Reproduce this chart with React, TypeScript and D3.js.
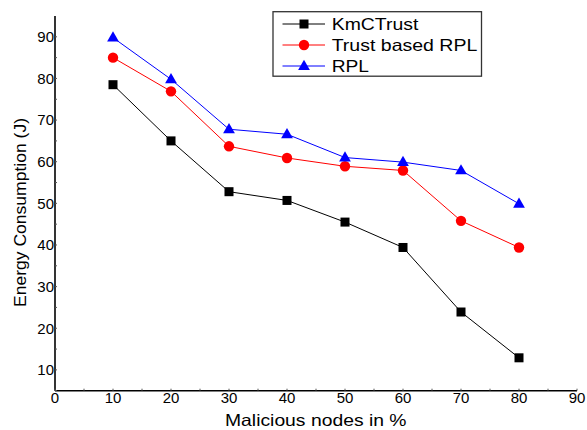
import React from "react";
import * as d3 from "d3";

const xValues = [10, 20, 30, 40, 50, 60, 70, 80];
const kmcTrust = [78.5, 65, 52.8, 50.7, 45.5, 39.4, 23.9, 12.9];
const trustRPL = [85, 76.9, 63.7, 60.9, 58.9, 57.9, 45.8, 39.4];
const rpl = [89.8, 79.8, 67.8, 66.6, 61, 59.9, 57.9, 49.9];
const seriesNames = ["KmCTrust", "Trust based RPL", "RPL"];
const xTicks = [0, 10, 20, 30, 40, 50, 60, 70, 80, 90];
const yTicks = [10, 20, 30, 40, 50, 60, 70, 80, 90];
const xTitle = "Malicious nodes in %";
const yTitle = "Energy Consumption (J)";

const W = 587;
const H = 430;
const left = 55;
const right = 577;
const top = 16;
const bottom = 390.7;

const font = "Arial, 'Liberation Sans', Helvetica, sans-serif";

function Marker({ kind, x, y, color }: { kind: string; x: number; y: number; color: string }) {
  if (kind === "square") {
    return <rect x={x - 4.5} y={y - 4.5} width={9} height={9} fill={color} />;
  }
  if (kind === "circle") {
    return <circle cx={x} cy={y} r={5.2} fill={color} />;
  }
  const sym = d3.symbol().type(d3.symbolTriangle).size(60)();
  return <path d={sym as string} transform={`translate(${x},${y + 0.5})`} fill={color} />;
}

export default function App() {
  const xs = d3.scaleLinear().domain([0, 90]).range([left, right]);
  const ys = d3.scaleLinear().domain([5, 95]).range([bottom, top]);
  const series = [
    { name: seriesNames[0], values: kmcTrust, color: "#000000", kind: "square" },
    { name: seriesNames[1], values: trustRPL, color: "#ff0000", kind: "circle" },
    { name: seriesNames[2], values: rpl, color: "#0000ff", kind: "triangle" },
  ];
  const line = d3
    .line<number>()
    .x((_, i) => xs(xValues[i]))
    .y((d) => ys(d));

  const xMinor = d3.range(5, 90, 10);
  const yMinor = d3.range(5, 95, 5).filter((v) => v % 10 !== 0);
  const legendTexts = [86.6, 145.6, 37.3];
  const legendYs = [24, 45, 66];

  return (
    <svg
      width={W}
      height={H}
      style={{ position: "absolute", left: 0, top: 0, background: "#fff" }}
      fontFamily={font}
    >
      <rect width={W} height={H} fill="#fff" />
      {/* axes */}
      <line x1={left} y1={bottom} x2={right} y2={bottom} stroke="#000" strokeWidth={1.6} />
      <line x1={left} y1={bottom} x2={left} y2={top} stroke="#000" strokeWidth={1.6} />
      {xTicks.map((t) => (
        <g key={"xt" + t}>
          <line x1={xs(t)} x2={xs(t)} y1={bottom} y2={bottom - 2} stroke="#555" strokeWidth={1} />
          <text x={xs(t)} y={402.5} fontSize={15} textAnchor="middle" fill="#000">
            {t}
          </text>
        </g>
      ))}
      {xMinor.map((t) => (
        <line key={"xm" + t} x1={xs(t)} x2={xs(t)} y1={bottom} y2={bottom - 2} stroke="#555" strokeWidth={1} />
      ))}
      {yTicks.map((t) => (
        <g key={"yt" + t}>
          <line x1={left} x2={left + 2} y1={ys(t)} y2={ys(t)} stroke="#555" strokeWidth={1} />
          <text x={54} y={ys(t) + 5.3} fontSize={15} textAnchor="end" fill="#000">
            {t}
          </text>
        </g>
      ))}
      {yMinor.map((t) => (
        <line key={"ym" + t} x1={left} x2={left + 2} y1={ys(t)} y2={ys(t)} stroke="#555" strokeWidth={1} />
      ))}
      {/* titles */}
      <text
        x={225}
        y={425.5}
        fontSize={16.5}
        textLength={181.5}
        lengthAdjust="spacingAndGlyphs"
        fill="#000"
      >
        {xTitle}
      </text>
      <text
        transform={`translate(26,307) rotate(-90)`}
        fontSize={16.5}
        textLength={189}
        lengthAdjust="spacingAndGlyphs"
        fill="#000"
      >
        {yTitle}
      </text>
      {/* series */}
      {series.map((s) => (
        <g key={s.name}>
          <path d={line(s.values) as string} fill="none" stroke={s.color} strokeWidth={1} />
          {s.values.map((v, i) => (
            <Marker key={i} kind={s.kind} x={xs(xValues[i])} y={ys(v)} color={s.color} />
          ))}
        </g>
      ))}
      {/* legend */}
      <rect x={273} y={11.7} width={208.5} height={64.5} fill="#fff" stroke="#333" strokeWidth={1.3} />
      {series.map((s, i) => (
        <g key={"lg" + s.name}>
          <line x1={282.5} x2={325} y1={legendYs[i]} y2={legendYs[i]} stroke={s.color} strokeWidth={1} />
          <Marker kind={s.kind} x={304} y={legendYs[i]} color={s.color} />
          <text
            x={331.7}
            y={legendYs[i] + 6}
            fontSize={16.5}
            textLength={legendTexts[i]}
            lengthAdjust="spacingAndGlyphs"
            fill="#000"
          >
            {s.name}
          </text>
        </g>
      ))}
    </svg>
  );
}
